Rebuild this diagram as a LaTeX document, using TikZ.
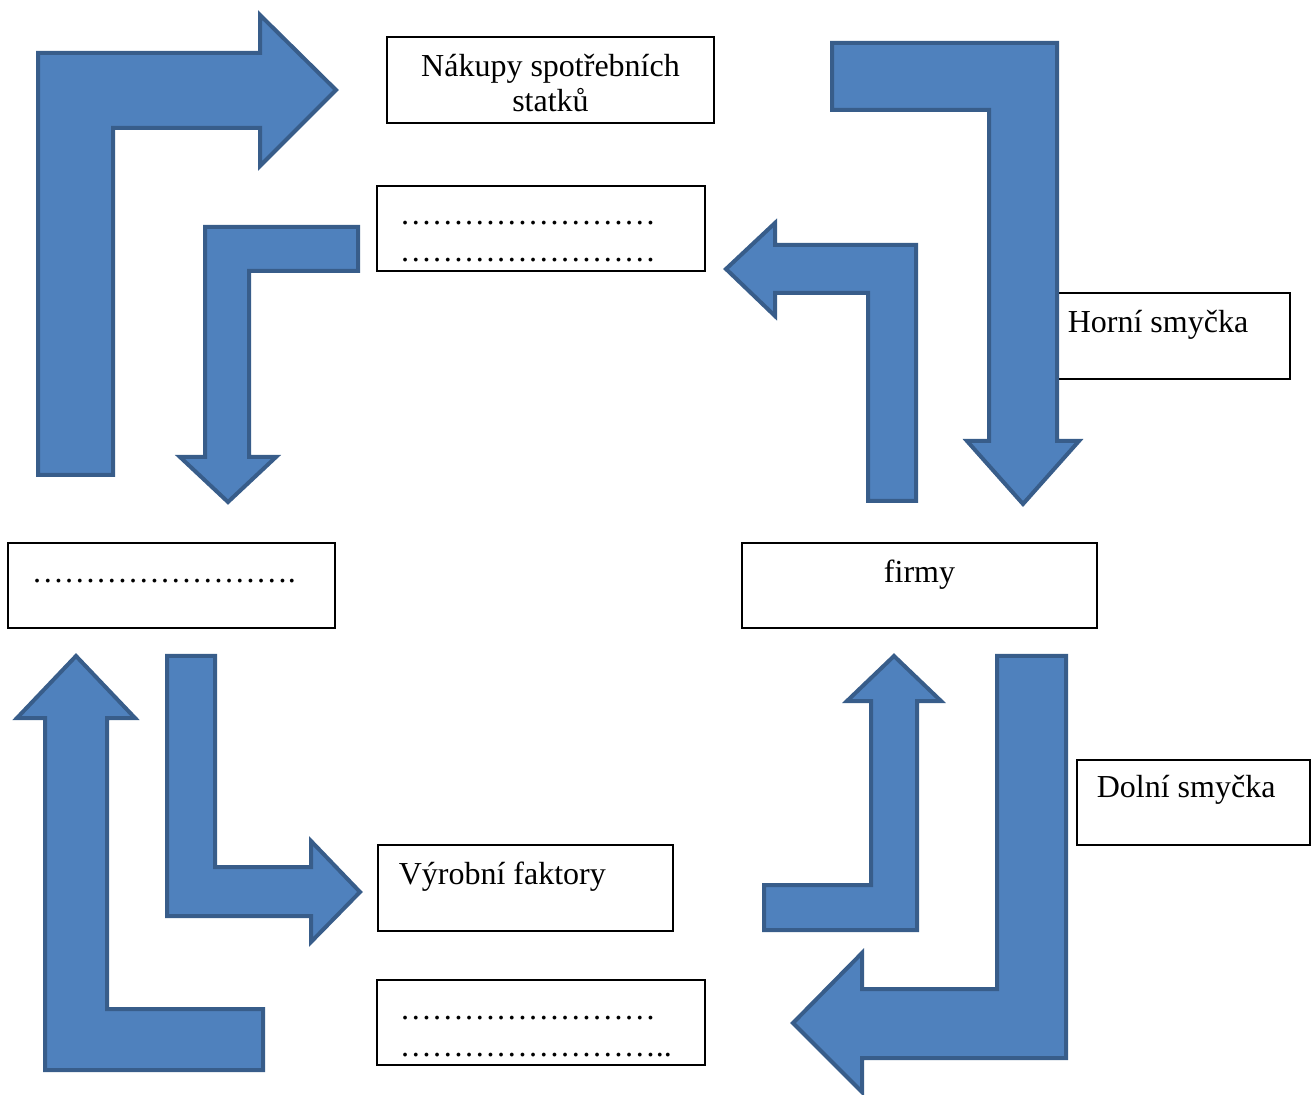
\documentclass[tikz,border=0pt]{standalone}
\usepackage{fontspec}
\setmainfont{Liberation Serif}
\usetikzlibrary{positioning}
\definecolor{arrowfill}{HTML}{4F81BD}
\definecolor{arrowline}{HTML}{385D8A}
\newcommand{\tecky}{…}
\newcommand{\radek}{\tecky\tecky\tecky\tecky\tecky\tecky\tecky\tecky}
\tikzstyle{box}=[draw=black,line width=0.6pt,fill=white,inner sep=0pt]
\tikzstyle{boxtext}=[anchor=base west,inner sep=0pt,align=left,font=\fontsize{16}{18.5}\selectfont]
\tikzstyle{bentarrow}=[draw=arrowline,fill=arrowfill,line width=2pt,line join=miter]

\begin{document}
\begin{tikzpicture}[x=0.5pt,y=0.5pt]
  \useasboundingbox (0,0) rectangle (1311,-1095);

  % boxes
  \node[box,minimum width=163.5pt,minimum height=43pt] (nakupy) at (550.5,-80) {};
  \node[box,minimum width=164pt,minimum height=42.5pt] (mzdy) at (541,-228.5) {};
  \node[box,minimum width=163.5pt,minimum height=42.5pt] (domacnosti) at (171.5,-585.5) {};
  \node[box,minimum width=177.5pt,minimum height=42.5pt] (firmy) at (919.5,-585.5) {};
  \node[box,minimum width=116pt,minimum height=43pt] (horni) at (1174,-336) {};
  \node[box,minimum width=116.5pt,minimum height=42.5pt] (dolni) at (1193.5,-802.5) {};
  \node[box,minimum width=147.5pt,minimum height=43pt] (vyrobni) at (525.5,-888) {};
  \node[box,minimum width=164pt,minimum height=42.5pt] (platby) at (541,-1022.5) {};

  % texts (base of a two-line node is its last line)
  \node[boxtext,anchor=base,align=center,font=\fontsize{16}{17.5}\selectfont] (nakupytext)
    at ([yshift=-37.5pt]nakupy.north) {Nákupy spotřebních\\statků};
  \node[boxtext] (mzdytext) at ([shift={(23,-76)}]mzdy.north west) {\radek\\\radek};
  \node[boxtext] (domacnostitext) at ([shift={(24,-40)}]domacnosti.north west) {\radek.};
  \node[boxtext,anchor=base] (firmytext) at ([yshift=-20pt]firmy.north) {firmy};
  \node[boxtext] (hornitext) at ([shift={(10,-40)}]horni.north west) {Horní smyčka};
  \node[boxtext] (dolnitext) at ([shift={(20,-38)}]dolni.north west) {Dolní smyčka};
  \node[boxtext] (vyrobnitext) at ([shift={(21,-40)}]vyrobni.north west) {Výrobní faktory};
  \node[boxtext] (platbytext) at ([shift={(23,-77)}]platby.north west) {\radek\\\radek..};

  % upper loop
  \draw[bentarrow] (38,-475) -- (38,-53) -- (260,-53) -- (260,-15) -- (336,-90)
    -- (260,-166) -- (260,-128) -- (113,-128) -- (113,-475) -- cycle;
  \draw[bentarrow] (358,-227) -- (205,-227) -- (205,-457) -- (180,-457) -- (228,-502)
    -- (276,-457) -- (249,-457) -- (249,-271) -- (358,-271) -- cycle;
  \draw[bentarrow] (832,-43) -- (1057,-43) -- (1057,-441) -- (1079,-441) -- (1023,-504)
    -- (967,-441) -- (989,-441) -- (989,-110) -- (832,-110) -- cycle;
  \draw[bentarrow] (868,-501) -- (916,-501) -- (916,-245) -- (775,-245) -- (775,-223)
    -- (726,-269) -- (775,-316) -- (775,-293) -- (868,-293) -- cycle;

  % lower loop
  \draw[bentarrow] (263,-1070) -- (45,-1070) -- (45,-718) -- (17,-718) -- (76,-656)
    -- (135,-718) -- (107,-718) -- (107,-1009) -- (263,-1009) -- cycle;
  \draw[bentarrow] (167,-656) -- (215,-656) -- (215,-867) -- (311,-867) -- (311,-841)
    -- (360,-892) -- (311,-942) -- (311,-916) -- (167,-916) -- cycle;
  \draw[bentarrow] (764,-930) -- (917,-930) -- (917,-701) -- (941,-701) -- (894,-656)
    -- (847,-701) -- (871,-701) -- (871,-885) -- (764,-885) -- cycle;
  \draw[bentarrow] (997,-656) -- (1066,-656) -- (1066,-1058) -- (862,-1058) -- (862,-1092)
    -- (793,-1023) -- (862,-953) -- (862,-989) -- (997,-989) -- cycle;
\end{tikzpicture}
\end{document}
